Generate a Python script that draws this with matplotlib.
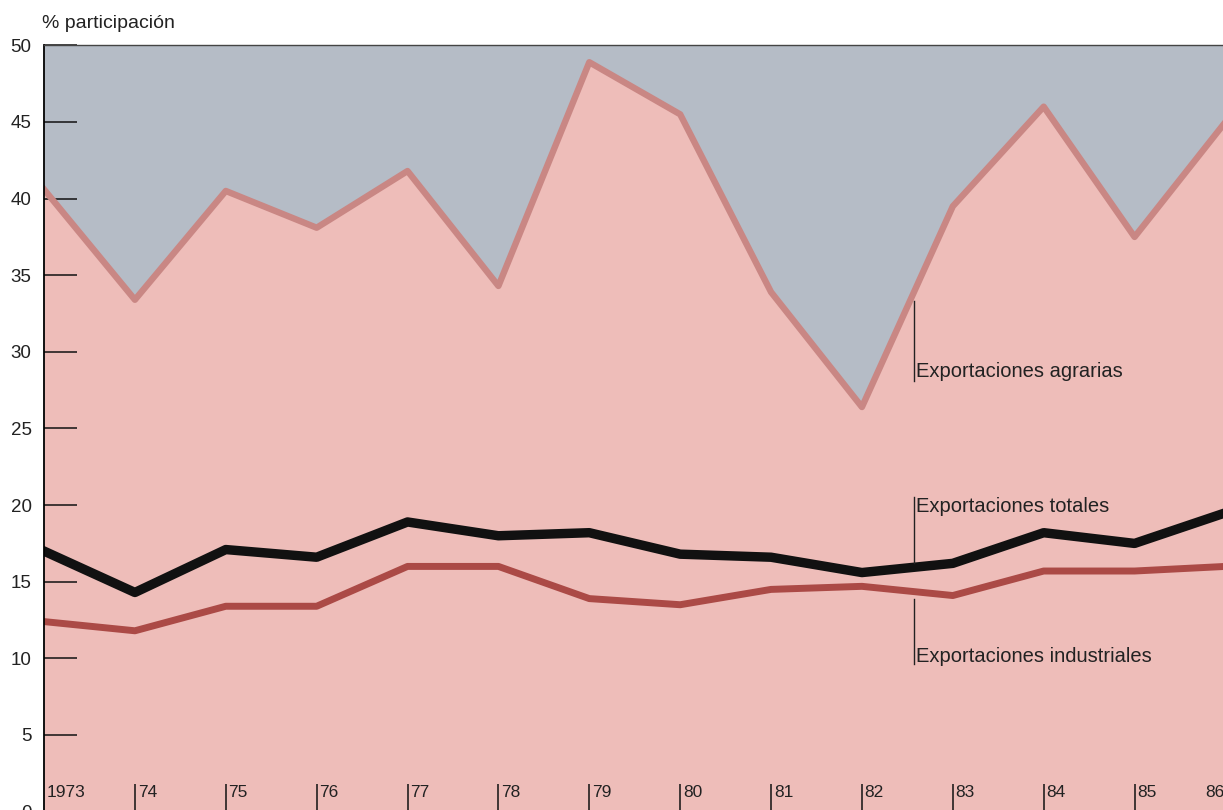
import matplotlib.pyplot as plt

plt.rcParams['font.family'] = ['Liberation Sans', 'DejaVu Sans']

years = list(range(1973, 1987))
year_labels = ["1973", "74", "75", "76", "77", "78", "79", "80", "81", "82",
               "83", "84", "85", "86"]

# % participation by year
agrarias = [40.6, 33.4, 40.5, 38.1, 41.8, 34.3, 48.9, 45.5, 33.9, 26.4,
            39.5, 46.0, 37.5, 45.0]
totales = [17.0, 14.3, 17.1, 16.6, 18.9, 18.0, 18.2, 16.8, 16.6, 15.6,
           16.2, 18.2, 17.5, 19.5]
industriales = [12.4, 11.8, 13.4, 13.4, 16.0, 16.0, 13.9, 13.5, 14.5, 14.7,
                14.1, 15.7, 15.7, 16.0]

yticks = [0, 5, 10, 15, 20, 25, 30, 35, 40, 45, 50]

grey = "#b5bcc6"
pink = "#eebdb9"

fig = plt.figure(figsize=(12.23, 8.1), dpi=100)
ax = fig.add_axes([0.036, -0.002, 0.966, 0.946])

ax.fill_between(years, 0, agrarias, color=pink, lw=0)
ax.fill_between(years, agrarias, 50, color=grey, lw=0)
ax.plot(years, agrarias, color="#c98784", lw=4.6)
ax.plot(years, industriales, color="#ab4a46", lw=5)
ax.plot(years, totales, color="#111111", lw=6.8)

ax.set_xlim(1973, 1986)
ax.set_ylim(0, 50)

ax.set_yticks(yticks)
ax.set_yticklabels([str(v) for v in yticks], fontsize=13.5, color="#222222")
ax.tick_params(axis="y", direction="in", length=24, width=1.1, pad=9, color="#111111")
ax.set_xticks(years[1:-1])
ax.set_xticklabels([])
ax.tick_params(axis="x", direction="in", length=20, width=1.1, color="#111111")

for side in ["right", "bottom"]:
    ax.spines[side].set_visible(False)
ax.spines["left"].set_linewidth(1.3)
ax.spines["top"].set_linewidth(1.0)
ax.spines["top"].set_color("#444444")

for yr, lab in zip(years, year_labels):
    ha = "right" if yr == 1986 else "left"
    dx = -0.01 if yr == 1986 else 0.03
    ax.text(yr + dx, 1.25, lab, fontsize=12.5, ha=ha, va="center", color="#222222")

# annotation lines and labels
xa = 1982.57
ax.plot([xa, xa], [33.3, 28.1], color="#222222", lw=1)
ax.text(xa + 0.03, 28.7, "Exportaciones agrarias", fontsize=14.5, va="center", color="#222222")
ax.plot([xa, xa], [20.5, 16.2], color="#222222", lw=1)
ax.text(xa + 0.03, 19.9, "Exportaciones totales", fontsize=14.5, va="center", color="#222222")
ax.plot([xa, xa], [13.9, 9.6], color="#222222", lw=1)
ax.text(xa + 0.03, 10.1, "Exportaciones industriales", fontsize=14.5, va="center", color="#222222")

fig.text(0.034, 0.971, "% participación", fontsize=14, va="center", color="#222222")

fig.savefig("out.png", dpi=100)
